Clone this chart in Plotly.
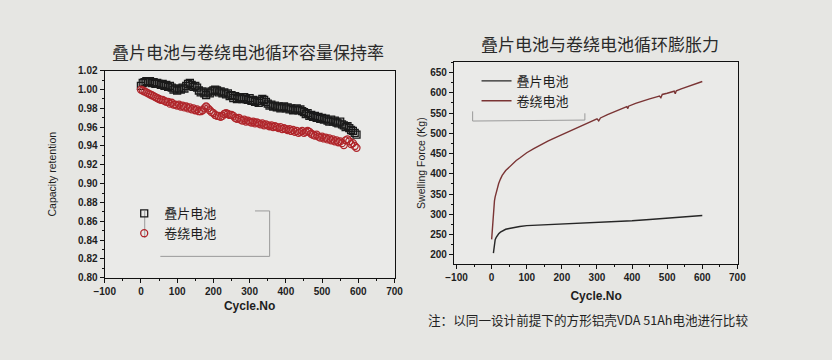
import plotly.graph_objects as go

# ---------------- data: capacity retention ----------------
cycles_cap = list(range(0, 600, 5))
stack_ret = [
    1.004, 1.007, 1.008, 1.009, 1.008, 1.009, 1.007, 1.008, 1.006, 1.007,
    1.006, 1.005, 1.006, 1.004, 1.005, 1.003, 1.004, 1.002, 1.000, 1.001,
    0.999, 1.001, 1.000, 1.002, 1.001, 1.004, 1.006, 1.007, 1.005, 1.003,
    1.004, 1.002, 0.999, 0.997, 0.998, 0.996, 0.994, 0.997, 0.996, 0.998,
    0.999, 1.000, 0.999, 0.997, 0.998, 0.996, 0.997, 0.995, 0.996, 0.993,
    0.994, 0.991, 0.993, 0.990, 0.992, 0.991, 0.990, 0.992, 0.990, 0.989,
    0.991, 0.988, 0.989, 0.987, 0.988, 0.986, 0.988, 0.990, 0.989, 0.987,
    0.985, 0.983, 0.984, 0.982, 0.983, 0.981, 0.982, 0.980, 0.981, 0.982,
    0.980, 0.981, 0.979, 0.980, 0.978, 0.979, 0.980, 0.978, 0.979, 0.977,
    0.976, 0.974, 0.975, 0.972, 0.973, 0.971, 0.972, 0.970, 0.971, 0.969,
    0.970, 0.968, 0.969, 0.967, 0.966, 0.968, 0.966, 0.967, 0.965, 0.964,
    0.966, 0.963, 0.962, 0.960, 0.961, 0.959, 0.957, 0.956, 0.954, 0.952,
]
wind_ret = [
    1.000, 0.999, 0.998, 0.997, 0.996, 0.995, 0.994, 0.993, 0.992, 0.991,
    0.990, 0.989, 0.989, 0.988, 0.987, 0.987, 0.985, 0.986, 0.984, 0.984,
    0.983, 0.984, 0.982, 0.983, 0.981, 0.982, 0.980, 0.981, 0.979, 0.980,
    0.978, 0.979, 0.977, 0.977, 0.978, 0.980, 0.982, 0.980, 0.978, 0.976,
    0.975, 0.973, 0.972, 0.972, 0.971, 0.972, 0.974, 0.975, 0.974, 0.973,
    0.973, 0.972, 0.970, 0.969, 0.970, 0.968, 0.967, 0.968, 0.966, 0.967,
    0.966, 0.965, 0.966, 0.964, 0.965, 0.964, 0.963, 0.964, 0.962, 0.963,
    0.962, 0.961, 0.962, 0.960, 0.961, 0.960, 0.959, 0.960, 0.958, 0.959,
    0.958, 0.957, 0.958, 0.956, 0.957, 0.955, 0.956, 0.954, 0.955, 0.956,
    0.954, 0.955, 0.956, 0.955, 0.953, 0.952, 0.951, 0.952, 0.950, 0.949,
    0.950, 0.948, 0.949, 0.947, 0.948, 0.946, 0.947, 0.945, 0.946, 0.944,
    0.945, 0.943, 0.941, 0.946, 0.947, 0.945, 0.942, 0.943, 0.940, 0.938,
]

# ---------------- data: swelling force ----------------
wind_cyc = [0, 2, 4, 6, 8, 10, 15, 20, 25, 30, 40, 50, 60, 70, 80, 90, 100,
            120, 140, 160, 180, 200, 220, 240, 260, 280, 300, 305, 310, 330,
            350, 370, 385, 388, 390, 410, 430, 450, 470, 478, 482, 486, 500,
            520, 523, 526, 540, 560, 580, 600]
wind_force = [238, 265, 295, 318, 333, 343, 362, 376, 387, 396, 408, 417, 425,
              433, 439, 446, 452, 462, 472, 481, 489, 497, 505, 513, 521, 528,
              536, 531, 538, 546, 554, 561, 566, 561, 567, 574, 580, 585, 590,
              592, 588, 596, 599, 604, 598, 605, 610, 616, 622, 628]
stack_cyc = [5, 6, 7, 8, 10, 13, 16, 20, 25, 30, 40, 50, 60, 70, 80, 100, 125,
             150, 175, 200, 250, 300, 350, 400, 450, 500, 550, 600]
stack_force = [204, 215, 224, 230, 237, 243, 248, 252, 256, 259, 263, 265, 267,
               269, 270, 272, 273, 274, 275, 275, 277, 279, 281, 284, 287, 290,
               293, 297]

name_stack = "叠片电池"
name_wind = "卷绕电池"
title_left = "叠片电池与卷绕电池循环容量保持率"
title_right = "叠片电池与卷绕电池循环膨胀力"
note_text = "注：以同一设计前提下的方形铝壳VDA 51Ah电池进行比较"

W, H = 832, 360
def px(x):
    return x / W
def py(y):
    return 1 - y / H

CJK = "Noto Sans CJK SC"
LAT = "Liberation Sans, Arial"
INK = "#1e1e1e"
BG = "#e6e6e3"
BLACK_M = "#1a1a1a"
RED_M = "#b0262b"
RED_L = "#7a3434"

fig = go.Figure()
fig.add_trace(go.Scatter(x=cycles_cap, y=stack_ret, mode="markers", name=name_stack,
                         marker=dict(symbol="square-open", size=7, color=BLACK_M,
                                     line=dict(width=1.3)),
                         xaxis="x", yaxis="y", legend="legend"))
fig.add_trace(go.Scatter(x=cycles_cap, y=wind_ret, mode="markers", name=name_wind,
                         marker=dict(symbol="circle-open", size=7, color=RED_M,
                                     line=dict(width=1.3)),
                         xaxis="x", yaxis="y", legend="legend"))
fig.add_trace(go.Scatter(x=stack_cyc, y=stack_force, mode="lines", name=name_stack,
                         line=dict(color="#262626", width=1.4),
                         xaxis="x2", yaxis="y2", legend="legend2"))
fig.add_trace(go.Scatter(x=wind_cyc, y=wind_force, mode="lines", name=name_wind,
                         line=dict(color=RED_L, width=1.4),
                         xaxis="x2", yaxis="y2", legend="legend2"))

tickfont = dict(family=LAT, size=10, color=INK, weight="bold")
base_axis = dict(showline=True, linecolor="#111", linewidth=1.3, mirror=True,
                 ticks="outside", ticklen=4, tickwidth=1.1, tickcolor="#111",
                 showgrid=False, zeroline=False, tickfont=tickfont)
def minor(d):
    return dict(ticks="outside", ticklen=2, tickwidth=1, tickcolor="#111", dtick=d)

fig.update_layout(
    width=W, height=H,
    margin=dict(l=0, r=0, t=0, b=0),
    paper_bgcolor=BG,
    plot_bgcolor="#eaeae8",
    showlegend=True,
    xaxis=dict(domain=[px(96), px(393)], range=[-100, 700], dtick=100,
               title=dict(text="Cycle.No", standoff=5,
                          font=dict(family=LAT, size=12, color=INK, weight="bold")),
               minor=minor(50), **base_axis),
    yaxis=dict(domain=[py(281), py(67)], range=[0.80, 1.02], dtick=0.02,
               tickformat=".2f",
               title=dict(text="Capacity retention", standoff=19,
                          font=dict(family=LAT, size=10.5, color=INK)),
               minor=minor(0.01), **base_axis),
    xaxis2=dict(domain=[px(454), px(745)], range=[-107, 702], dtick=100, anchor="y2",
                title=dict(text="Cycle.No", standoff=9,
                           font=dict(family=LAT, size=12, color=INK, weight="bold")),
                minor=minor(50), **base_axis),
    yaxis2=dict(domain=[py(267), py(58)], range=[177, 676], dtick=50, anchor="x2",
                title=dict(text="Swelling Force (Kg)", standoff=2,
                           font=dict(family=LAT, size=10.5, color=INK)),
                minor=minor(25), **base_axis),
    legend=dict(x=px(116), y=py(199), xanchor="left", yanchor="top",
                bgcolor="rgba(0,0,0,0)", borderwidth=0, tracegroupgap=0,
                itemwidth=30, font=dict(family=CJK, size=13, color=INK)),
    legend2=dict(x=px(477), y=py(62), xanchor="left", yanchor="top",
                 bgcolor="rgba(0,0,0,0)", borderwidth=0,
                 itemwidth=30, font=dict(family=CJK, size=13, color=INK)),
    annotations=[
        dict(text=title_left, x=px(243), y=py(47), xref="paper", yref="paper",
             showarrow=False, font=dict(family=CJK, size=17, color="#2a2a2a"),
             xanchor="center", yanchor="middle"),
        dict(text=title_right, x=px(603), y=py(39), xref="paper", yref="paper",
             showarrow=False, font=dict(family=CJK, size=17, color="#2a2a2a"),
             xanchor="center", yanchor="middle"),
        dict(text=note_text, x=px(425), y=py(324), xref="paper", yref="paper",
             showarrow=False, font=dict(family=CJK, size=12.6, color="#222"),
             xanchor="left", yanchor="middle"),
    ],
    shapes=[
        dict(type="line", xref="paper", yref="paper", x0=px(137), x1=px(137), y0=py(212), y1=py(240),
             line=dict(color="#9a9a9a", width=1)),
        dict(type="line", xref="paper", yref="paper", x0=px(250), x1=px(265), y0=py(212), y1=py(212),
             line=dict(color="#9a9a9a", width=1)),
        dict(type="line", xref="paper", yref="paper", x0=px(265), x1=px(265), y0=py(212), y1=py(259),
             line=dict(color="#9a9a9a", width=1)),
        dict(type="line", xref="paper", yref="paper", x0=px(153), x1=px(265), y0=py(259), y1=py(259),
             line=dict(color="#9a9a9a", width=1)),
        dict(type="line", xref="paper", yref="paper", x0=px(473), x1=px(473), y0=py(109), y1=py(119),
             line=dict(color="#9a9a9a", width=1)),
        dict(type="line", xref="paper", yref="paper", x0=px(473), x1=px(588), y0=py(119), y1=py(118),
             line=dict(color="#9a9a9a", width=1)),
        dict(type="line", xref="paper", yref="paper", x0=px(588), x1=px(588), y0=py(111), y1=py(118),
             line=dict(color="#9a9a9a", width=1)),
    ],
)

post = ("document.body.style.margin='0';document.body.style.padding='0';"
        "document.body.style.overflow='hidden';"
        "document.body.style.background='" + BG + "';")
fig.write_html("out.html", post_script=post, config={"displayModeBar": False})
